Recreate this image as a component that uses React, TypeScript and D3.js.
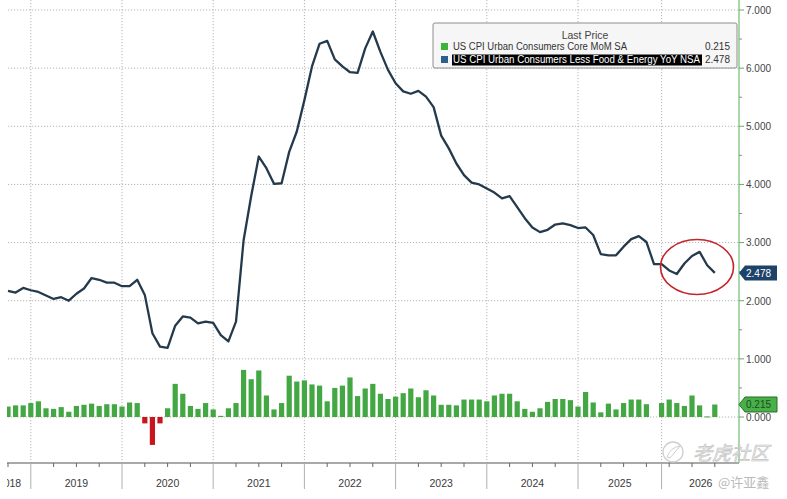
import * as d3 from 'd3';

// YoY core CPI (line), one value per monthly observation
const yoyValues = [
  2.17, 2.14, 2.22, 2.18, 2.15, 2.09, 2.03, 2.06, 2.0, 2.12, 2.21, 2.39,
  2.36, 2.31, 2.31, 2.25, 2.25, 2.36, 2.1, 1.44, 1.21, 1.19, 1.57, 1.73,
  1.71, 1.61, 1.64, 1.62, 1.41, 1.3, 1.64, 3.04, 3.8, 4.48, 4.28, 4.01,
  4.02, 4.56, 4.91, 5.45, 6.03, 6.42, 6.47, 6.15, 6.03, 5.93, 5.92, 6.34,
  6.63, 6.28, 5.97, 5.74, 5.6, 5.56, 5.61, 5.51, 5.33, 4.84, 4.62, 4.36,
  4.16, 4.03, 4.0, 3.93, 3.86, 3.76, 3.8, 3.61, 3.42, 3.26, 3.18, 3.22,
  3.31, 3.33, 3.3, 3.25, 3.26, 3.13, 2.8, 2.78, 2.78, 2.93, 3.06, 3.11,
  3.01, 2.63, 2.63, 2.52, 2.46, 2.64, 2.77, 2.84, 2.61, 2.478,
];

// MoM core CPI (bars); null = no release
const momValues: (number | null)[] = [
  0.18, 0.2, 0.2, 0.24, 0.27, 0.15, 0.14, 0.17, 0.09, 0.19, 0.21, 0.23,
  0.19, 0.22, 0.22, 0.18, 0.25, 0.24, -0.11, -0.48, -0.11, 0.15, 0.57, 0.4,
  0.19, 0.14, 0.24, 0.13, 0.02, 0.15, 0.24, 0.81, 0.65, 0.8, 0.37, 0.13,
  0.24, 0.71, 0.61, 0.63, 0.56, 0.54, 0.27, 0.5, 0.54, 0.68, 0.36, 0.49,
  0.57, 0.4, 0.31, 0.35, 0.41, 0.49, 0.34, 0.46, 0.37, 0.21, 0.21, 0.2,
  0.3, 0.3, 0.3, 0.27, 0.37, 0.4, 0.4, 0.27, 0.14, 0.09, 0.15, 0.26,
  0.31, 0.31, 0.29, 0.18, 0.43, 0.25, 0.08, 0.23, 0.13, 0.24, 0.3, 0.3,
  0.22, null, 0.24, 0.3, 0.24, 0.19, 0.37, 0.2, 0.01, 0.215,
];

const yearLabels = ['2018', '2019', '2020', '2021', '2022', '2023', '2024', '2025', '2026'];
// observation index where each year (from 2019) begins
const yearStarts = [3, 15, 27, 39, 51, 63, 75, 86];
const yTicks = [0, 1, 2, 3, 4, 5, 6, 7];

const legendNames = [
  'US CPI Urban Consumers Core MoM SA',
  'US CPI Urban Consumers Less Food & Energy YoY NSA',
];
const legendLast = ['0.215', '2.478'];

const W = 787;
const H = 499;
const LEFT = 8;
const AXIS_X = 739;
const BOTTOM = 463;
const AXIS_START = -2.6; // visible index range of the time axis
const AXIS_END = 96.3;

const GREEN = '#43a843';
const RED = '#c8161e';
const NAVY = '#243a4c';
const FONT = '"Liberation Sans", Arial, sans-serif';

export default function App() {
  const n = yoyValues.length;
  const x = d3.scaleLinear().domain([0, n - 1]).range([LEFT, LEFT + (n - 1) * 7.6]);
  const y = d3.scaleLinear().domain([0, 7]).range([417, 10]);

  const line = d3.line<number>()
    .x((_, i) => x(i))
    .y(d => y(d));

  const minorX = d3.range(0, 96, 3).filter(i => !yearStarts.includes(i));
  const bounds = [AXIS_START, ...yearStarts, AXIS_END];
  const minorY = d3.range(0.5, 7, 1);

  const lastYoy = yoyValues[n - 1];
  const lastMom = momValues[n - 1] as number;

  const tag = (cy: number) =>
    `M${AXIS_X},${cy} L${AXIS_X + 6},${cy - 7.5} L777,${cy - 7.5} L777,${cy + 7.5} L${AXIS_X + 6},${cy + 7.5} Z`;

  return (
    <svg width={W} height={H} style={{ position: 'absolute', left: 0, top: 0, background: '#fff' }}>
      <defs>
        <clipPath id="vis">
          <rect x={7} y={0} width={W - 7} height={H} />
        </clipPath>
      </defs>
      <g clipPath="url(#vis)">
        {/* grid */}
        {yTicks.map(t => (
          <line key={'h' + t} x1={LEFT} x2={AXIS_X} y1={y(t)} y2={y(t)}
            stroke="#b5b5b5" strokeWidth={1} strokeDasharray="1.2,1.8" />
        ))}
        {yearStarts.map(i => (
          <line key={'v' + i} x1={x(i)} x2={x(i)} y1={0} y2={BOTTOM}
            stroke="#b5b5b5" strokeWidth={1} strokeDasharray="1.2,1.8" />
        ))}

        {/* bars */}
        {momValues.map((v, i) =>
          v === null ? null : (
            <rect key={'b' + i} x={x(i) - 2.6} width={5.2}
              y={v >= 0 ? y(v) : y(0)}
              height={Math.max(Math.abs(y(v) - y(0)), 1)}
              fill={v >= 0 ? GREEN : RED} />
          )
        )}

        {/* line */}
        <path d={line(yoyValues) || ''} fill="none" stroke={NAVY} strokeWidth={2.3} strokeLinejoin="round" />

        {/* highlight ellipse */}
        <ellipse cx={697} cy={267} rx={36.5} ry={27.5} fill="none" stroke="#c2262c" strokeWidth={1.6} />

        {/* bottom axis */}
        <line x1={0} x2={AXIS_X} y1={BOTTOM} y2={BOTTOM} stroke="#8d8d8d" strokeWidth={1.5} />
        {yearStarts.map(i => (
          <line key={'yt' + i} x1={x(i)} x2={x(i)} y1={BOTTOM} y2={489} stroke="#b0b0b0" strokeWidth={1} />
        ))}
        {minorX.map(i => (
          <line key={'mt' + i} x1={x(i)} x2={x(i)} y1={BOTTOM} y2={467} stroke="#666" strokeWidth={1} />
        ))}
        {yearLabels.map((lab, k) => (
          <text key={lab} x={x((bounds[k] + bounds[k + 1]) / 2)} y={487} textAnchor="middle"
            fontFamily={FONT} fontSize={10.5} fill="#3a3a3a">{lab}</text>
        ))}
      </g>

      {/* right axis */}
      <line x1={AXIS_X} x2={AXIS_X} y1={0} y2={BOTTOM} stroke="#7cc27c" strokeWidth={1.3} />
      {yTicks.map(t => (
        <g key={'yl' + t}>
          <line x1={AXIS_X} x2={AXIS_X + 5} y1={y(t)} y2={y(t)} stroke="#6aa86a" />
          <text x={746} y={y(t) + 3.8} fontFamily={FONT} fontSize={10} fill="#444">{t.toFixed(3)}</text>
        </g>
      ))}
      {minorY.map(t => (
        <line key={'ym' + t} x1={AXIS_X} x2={AXIS_X + 3} y1={y(t)} y2={y(t)} stroke="#8a8a8a" />
      ))}

      {/* last value tags */}
      <path d={tag(y(lastYoy))} fill="#1d4369" />
      <text x={746} y={y(lastYoy) + 3.8} fontFamily={FONT} fontSize={10} fill="#fff">{lastYoy.toFixed(3)}</text>
      <path d={tag(y(lastMom))} fill="#49b049" stroke="#2b6e2b" strokeWidth={1} />
      <text x={746} y={y(lastMom) + 3.8} fontFamily={FONT} fontSize={10} fill="#1d4d1d">{lastMom.toFixed(3)}</text>

      {/* legend */}
      <rect x={433} y={23} width={304} height={45} rx={2} fill="#f6f6f6" stroke="#8c8c8c" strokeWidth={1} />
      <text x={585} y={39} textAnchor="middle" fontFamily={FONT} fontSize={10.5} fill="#444">Last Price</text>
      <rect x={441} y={43} width={7} height={7} fill="#3cb43c" />
      <text x={453} y={50} fontFamily={FONT} fontSize={10} fill="#333"
        textLength={174} lengthAdjust="spacingAndGlyphs">{legendNames[0]}</text>
      <text x={730} y={50} textAnchor="end" fontFamily={FONT} fontSize={10} fill="#333">{legendLast[0]}</text>
      <rect x={441} y={56} width={7} height={7} fill="#2b5f8c" />
      <rect x={452} y={54.5} width={250} height={11} fill="#000" />
      <text x={453} y={63} fontFamily={FONT} fontSize={10} fill="#fff"
        textLength={247} lengthAdjust="spacingAndGlyphs">{legendNames[1]}</text>
      <text x={730} y={63} textAnchor="end" fontFamily={FONT} fontSize={10} fill="#333">{legendLast[1]}</text>

      {/* watermark */}
      <g opacity={0.9}>
        <circle cx={673} cy={452} r={10} fill="none" stroke="#c9c9c9" strokeWidth={1.3} />
        <path d="M667,457 Q671,447 680,446 Q675,452 670,458 Z" fill="none" stroke="#c9c9c9" strokeWidth={1} />
        <text x={693} y={460} fontFamily='"Noto Sans CJK SC", sans-serif' fontSize={19} fontStyle="italic"
          fill="#e6e6e6" stroke="#bdbdbd" strokeWidth={0.6}>老虎社区</text>
        <text x={718} y={487} fontFamily='"Noto Sans CJK SC", sans-serif' fontSize={13} fill="#b3b3b3">@许亚鑫</text>
      </g>
    </svg>
  );
}
